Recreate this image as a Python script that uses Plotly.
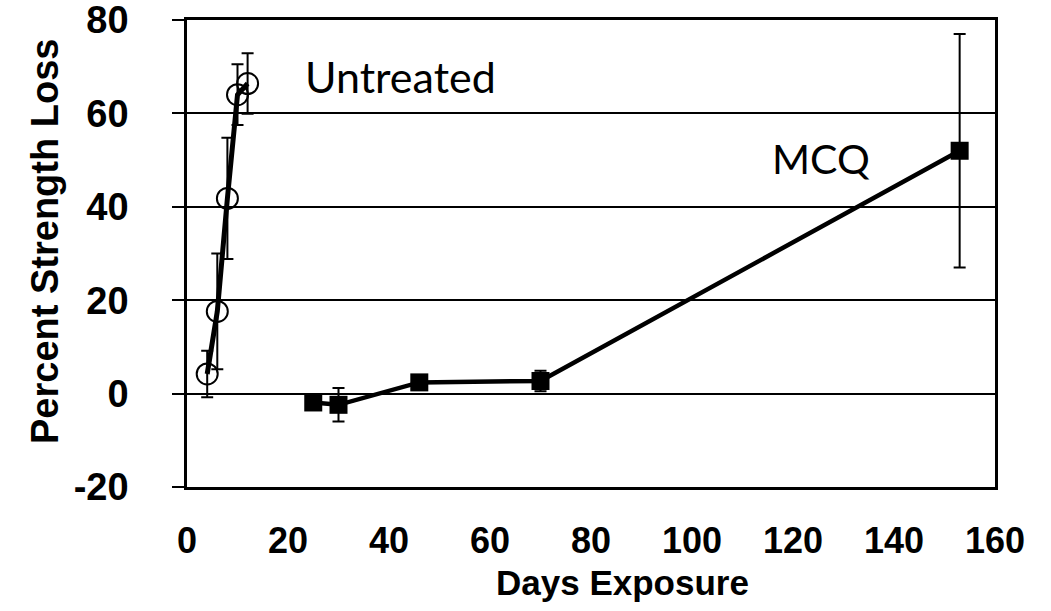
import plotly.graph_objects as go

# Untreated specimens
untreated_days = [4, 6, 8, 10, 12]
untreated_loss = [4.2, 17.6, 41.8, 64.0, 66.4]
untreated_err = [5.0, 12.4, 13.0, 6.5, 6.5]

# MCQ-treated specimens
mcq_days = [25, 30, 46, 70, 153]
mcq_loss = [-1.9, -2.4, 2.4, 2.7, 52.0]
mcq_err = [0.0, 3.6, 0.0, 2.2, 25.0]

x_ticks = [0, 20, 40, 60, 80, 100, 120, 140, 160]
y_ticks = [-20, 0, 20, 40, 60, 80]

# Page and plot-area geometry (pixels)
W, H = 1051, 611
L, R, T, B = 187, 56, 20, 124
pw, ph = W - L - R, H - T - B

fig = go.Figure()

fig.add_trace(go.Scatter(
    x=untreated_days, y=untreated_loss,
    mode="lines+markers",
    line=dict(color="black", width=5),
    marker=dict(symbol="circle-open", size=21, color="black", line=dict(width=2)),
    error_y=dict(type="data", array=untreated_err, visible=True,
                 color="black", thickness=2, width=6),
    name="Untreated", showlegend=False,
))

fig.add_trace(go.Scatter(
    x=mcq_days, y=mcq_loss,
    mode="lines+markers",
    line=dict(color="black", width=4.5),
    marker=dict(symbol="square", size=18, color="black"),
    error_y=dict(type="data", array=mcq_err, visible=True,
                 color="black", thickness=2, width=6),
    name="MCQ", showlegend=False,
))

label_font = dict(family="Lato, Open Sans, sans-serif", size=43, color="black")
fig.add_annotation(x=23, y=68, text="Untreated", showarrow=False,
                   xanchor="left", yanchor="middle", font=label_font)
fig.add_annotation(x=115.5, y=50.3, text="MCQ", showarrow=False,
                   xanchor="left", yanchor="middle", font=dict(label_font, size=41))

axis_family = "Liberation Sans, Arial, sans-serif"

# Axis titles, placed in page pixels
fig.add_annotation(xref="paper", yref="paper", x=(622 - L) / pw, y=(H - B - 582) / ph,
                   text="<b>Days Exposure</b>", showarrow=False,
                   xanchor="center", yanchor="middle",
                   font=dict(family=axis_family, size=35, color="black"))
fig.add_annotation(xref="paper", yref="paper", x=(45 - L) / pw, y=(H - B - 242) / ph,
                   text="<b>Percent Strength Loss</b>", textangle=-90, showarrow=False,
                   xanchor="center", yanchor="middle",
                   font=dict(family=axis_family, size=38, color="black"))

fig.update_xaxes(
    range=[0, 160], tickvals=x_ticks, ticktext=[str(v) for v in x_ticks],
    showgrid=False, zeroline=False, automargin=False,
    showline=True, linecolor="black", linewidth=2.5, mirror=True,
    ticks="", ticklabelstandoff=20, ticklabeloverflow="allow",
    tickfont=dict(family=axis_family, size=36, color="black", weight="bold"),
)
fig.update_yaxes(
    range=[-20, 80], tickvals=y_ticks, ticktext=[str(v) for v in y_ticks],
    showgrid=True, gridcolor="black", gridwidth=2, zeroline=False, automargin=False,
    showline=True, linecolor="black", linewidth=2.5, mirror=True,
    ticks="outside", ticklen=12, tickcolor="black", tickwidth=2,
    ticklabelstandoff=36, ticklabeloverflow="allow",
    tickfont=dict(family=axis_family, size=38, color="black", weight="bold"),
)

fig.update_layout(
    width=W, height=H,
    margin=dict(l=L, r=R, t=T, b=B, autoexpand=False),
    paper_bgcolor="white", plot_bgcolor="white",
)

fig.write_html("out.html")
